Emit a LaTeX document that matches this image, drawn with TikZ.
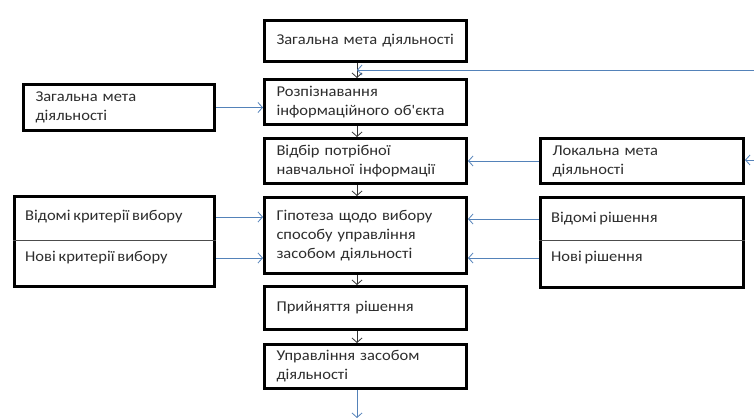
\documentclass[tikz,border=0pt]{standalone}
\usepackage{fontspec}
\newfontfamily\txtfont[FakeStretch=1.1,WordSpace=0.75]{Carlito}
\usetikzlibrary{arrows.meta}
\definecolor{linkblue}{RGB}{84,130,185}
\definecolor{txtgray}{RGB}{45,45,45}
\tikzset{
  box/.style={draw=black, line width=3pt, fill=white, anchor=north west,
    inner xsep=12pt, inner ysep=0pt, align=left, text=txtgray,
    font=\txtfont\fontsize{15}{19}\selectfont},
  lbl/.style={anchor=west, inner sep=0pt, text=txtgray,
    font=\txtfont\fontsize{15}{19}\selectfont},
  conn/.style={draw=linkblue, line width=0.8pt, -{Straight Barb[length=4.5pt,width=10pt]}},
  vconn/.style={draw=black!80, line width=0.8pt, -{Straight Barb[length=4.5pt,width=10pt]}},
  divider/.style={draw=black!70, line width=0.6pt}
}
\begin{document}
\begin{tikzpicture}[x=1pt,y=-1pt]
\useasboundingbox (0,0) rectangle (754,419);
\coordinate (sp) at (357,0);
% central column
\node[box, text width=178pt, minimum height=41pt] (c1) at (263,19) {Загальна мета діяльності};
\node[box, text width=178pt, minimum height=45pt] (c2) at (263,78) {Розпізнавання\\інформаційного об'єкта};
\node[box, text width=178pt, minimum height=45pt] (c3) at (263,137) {Відбір потрібної\\навчальної інформації};
\node[box, text width=178pt, minimum height=76pt] (c4) at (263,196) {Гіпотеза щодо вибору\\способу управління\\засобом діяльності};
\node[box, text width=178pt, minimum height=43pt] (c5) at (263,285) {Прийняття рішення};
\node[box, text width=178pt, minimum height=44pt] (c6) at (263,343) {Управління засобом\\діяльності};
% left side
\node[box, text width=167pt, minimum height=46pt] (l1) at (22,83) {Загальна мета\\діяльності};
\node[box, text width=176pt, minimum height=90pt] (lb) at (13,195) {};
\draw[divider] (lb.west |- 0,240) -- (lb.east |- 0,240);
\node[lbl] (lbt1) at (25,217) {Відомі критерії вибору};
\node[lbl] (lbt2) at (25,258) {Нові критерії вибору};
% right side
\node[box, text width=179pt, minimum height=45pt] (r1) at (539,137) {Локальна мета\\діяльності};
\node[box, text width=179pt, minimum height=90pt] (rb) at (539,196) {};
\draw[divider] (rb.west |- 0,240) -- (rb.east |- 0,240);
\node[lbl] (rbt1) at (551,219) {Відомі рішення};
\node[lbl] (rbt2) at (551,258) {Нові рішення};
% vertical connectors
\draw[vconn] (c1.south -| sp) -- (c2.north -| sp);
\draw[vconn] (c2.south -| sp) -- (c3.north -| sp);
\draw[vconn] (c3.south -| sp) -- (c4.north -| sp);
\draw[vconn] (c4.south -| sp) -- (c5.north -| sp);
\draw[vconn] (c5.south -| sp) -- (c6.north -| sp);
\coordinate (bot) at (357,418);
\draw[conn] (c6.south -| sp) -- (bot);
% feedback and side inputs
\coordinate (fb) at (754,70);
\draw[conn] (fb) -- (fb -| sp);
\coordinate (rin) at (754,160);
\draw[conn] (rin) -- (r1.east |- rin);
\draw[conn] (l1.east) -- (c2.west |- l1.east);
\draw[conn] (r1.west) -- (c3.east |- r1.west);
\draw[conn] (lb.east |- lbt1) -- (c4.west |- lbt1);
\draw[conn] (lb.east |- lbt2) -- (c4.west |- lbt2);
\draw[conn] (rb.west |- rbt1) -- (c4.east |- rbt1);
\draw[conn] (rb.west |- rbt2) -- (c4.east |- rbt2);
\end{tikzpicture}
\end{document}
